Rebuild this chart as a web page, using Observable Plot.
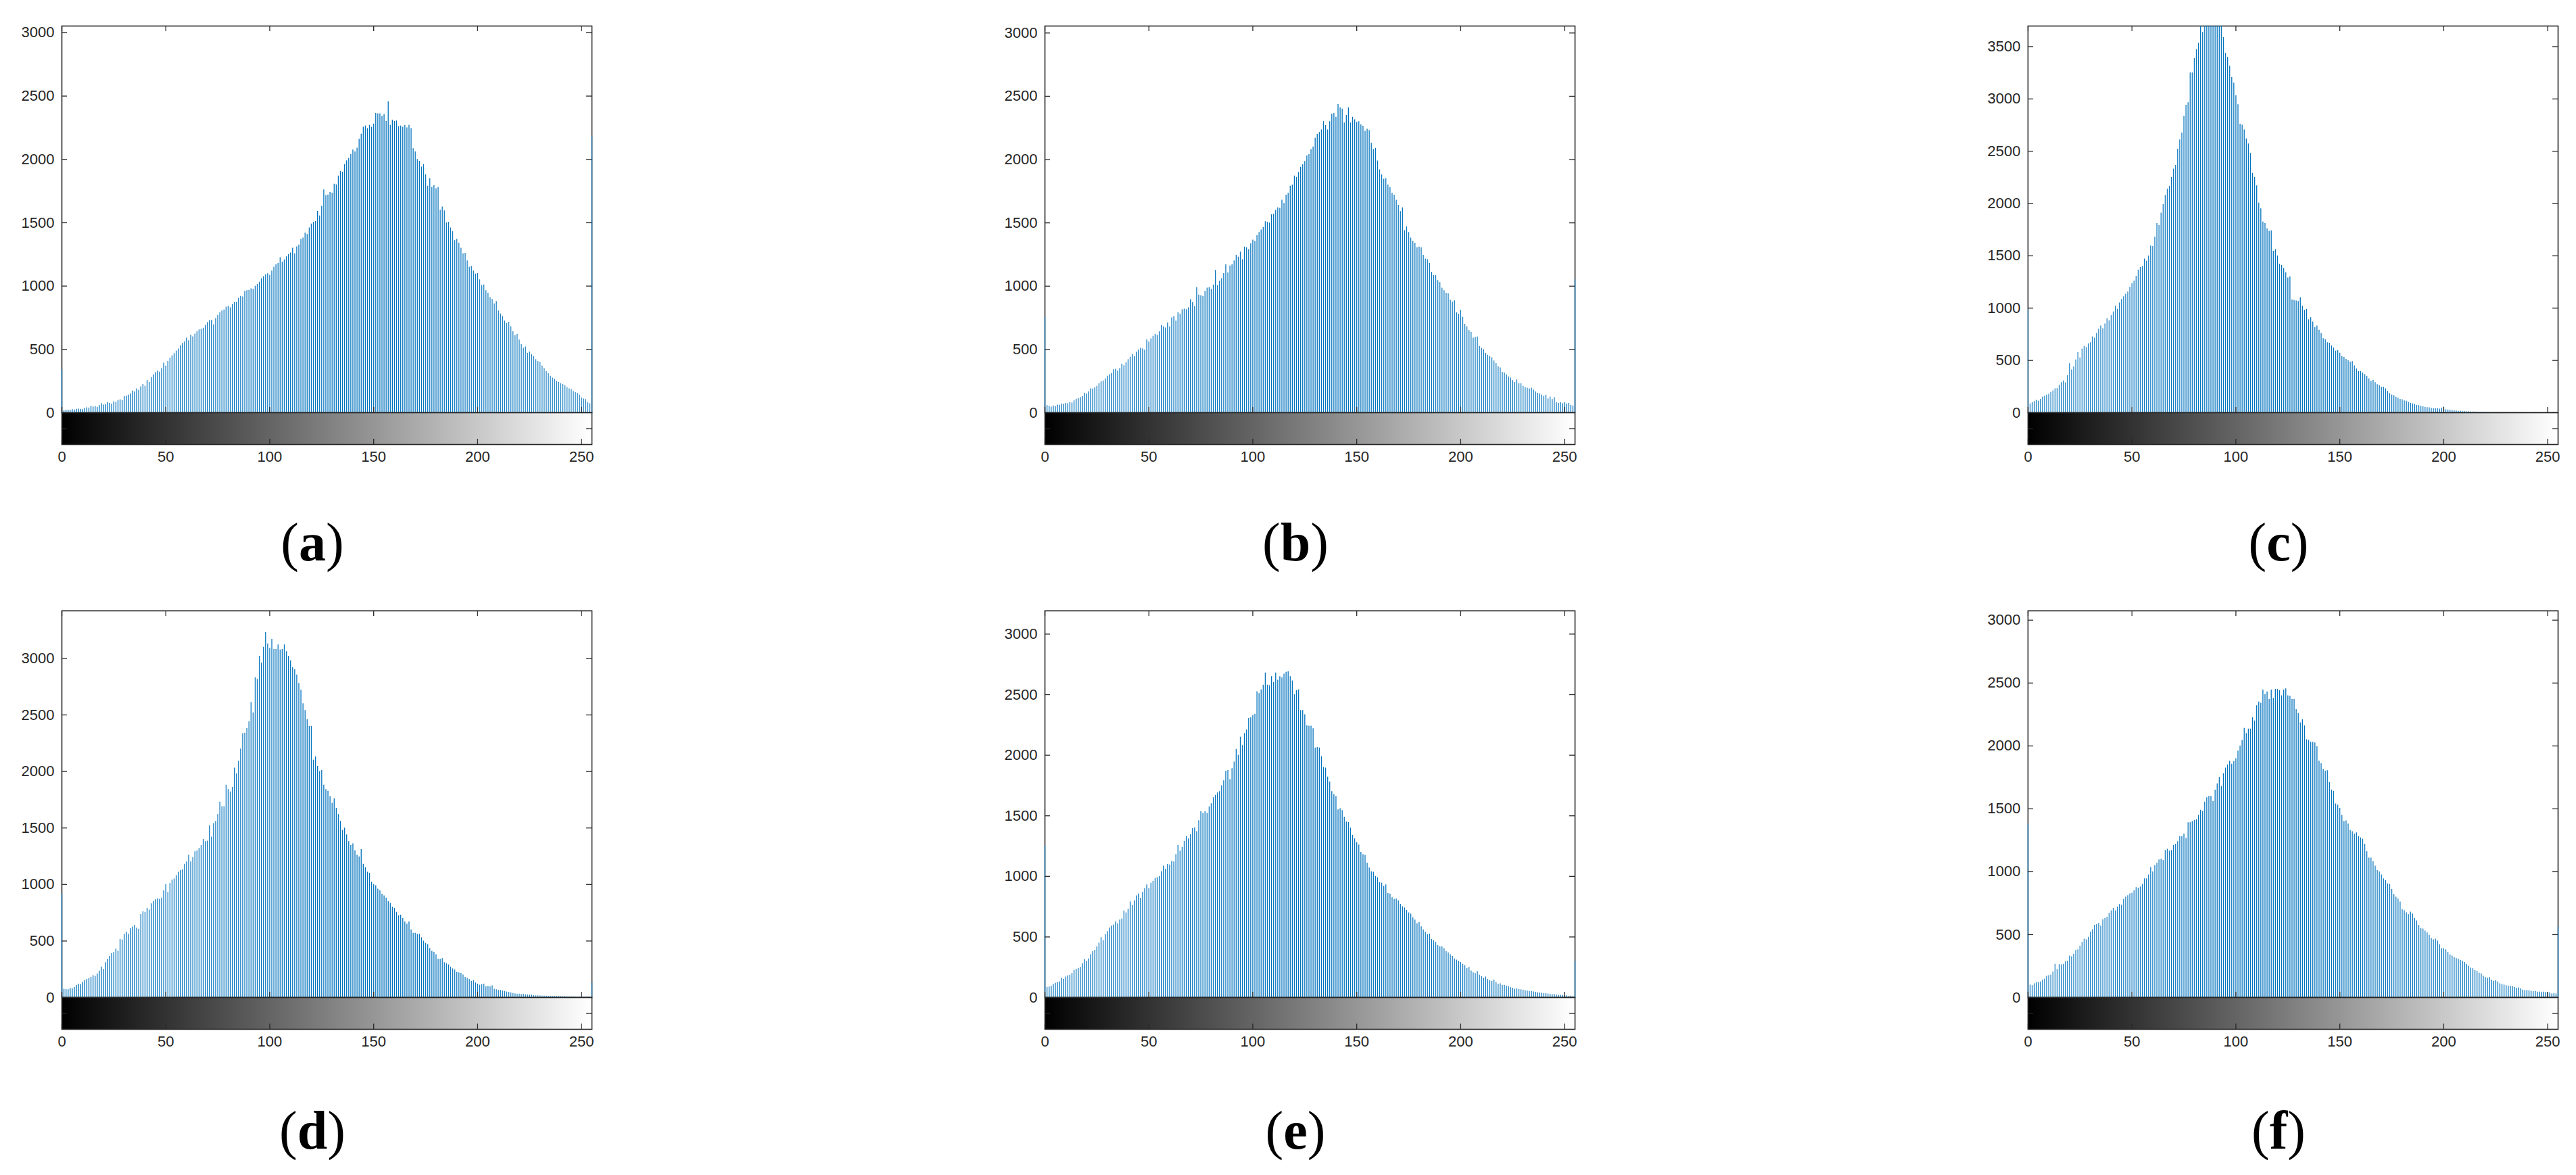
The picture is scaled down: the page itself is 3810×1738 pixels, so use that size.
<!DOCTYPE html>
<html><head><meta charset="utf-8">
<script src="https://cdn.jsdelivr.net/npm/d3@7"></script>
<script src="https://cdn.jsdelivr.net/npm/@observablehq/plot@0.6"></script>
<style>
body{margin:0;background:#fff;}
#fig{position:relative;width:3810px;height:1738px;background:#fff;overflow:hidden;}
.panel{position:absolute;}
.lbl{position:absolute;font-family:"Liberation Serif","Times New Roman",serif;font-size:80px;color:#000;transform:translate(-50%,-50%);white-space:nowrap;line-height:1;}
.lbl b{font-weight:bold;}
</style></head><body><div id="fig"></div>
<script>
// intensity levels (categories) and tick labels
const levels = d3.range(256);
const xTicks = [0, 50, 100, 150, 200, 250];
const yTicksAll = [0, 500, 1000, 1500, 2000, 2500, 3000, 3500];
const panelLabels = ["a", "b", "c", "d", "e", "f"];

const countsA = [
340,18,21,22,20,25,23,28,30,27,26,35,40,38,52,46,
50,44,58,72,62,66,80,75,70,88,82,98,104,96,128,132,
140,150,172,165,190,178,205,225,210,255,240,278,300,318,330,322,
350,392,370,405,432,450,468,488,505,530,548,560,590,570,612,600,
622,640,655,660,668,690,712,728,730,695,745,770,790,805,812,835,
840,830,855,870,872,905,920,915,960,965,968,980,975,1000,1015,1032,
1060,1075,1090,1098,1085,1120,1150,1170,1180,1225,1190,1208,1232,1250,1262,1300,
1255,1310,1325,1370,1380,1420,1408,1460,1490,1505,1510,1590,1555,1630,1760,1715,
1720,1740,1735,1805,1800,1870,1905,1900,1960,1990,2010,2040,2075,2060,2090,2160,
2200,2255,2265,2245,2270,2255,2280,2365,2360,2360,2340,2355,2300,2455,2270,2310,
2300,2305,2260,2265,2255,2270,2250,2270,2245,2085,2060,2000,1985,1940,1960,1880,
1790,1850,1780,1795,1770,1780,1600,1625,1595,1500,1505,1460,1430,1360,1370,1340,
1300,1255,1260,1200,1150,1155,1120,1095,1100,1050,1005,1010,965,945,910,895,
860,880,805,780,760,725,705,715,680,640,610,620,575,540,510,520,
470,480,460,445,420,405,400,370,350,325,310,290,275,265,250,240,
230,225,215,200,190,185,170,160,155,140,118,110,105,80,72,2180];

const countsB = [
755,58,52,45,55,50,62,60,70,68,75,72,80,78,95,108,
112,120,130,155,148,165,190,188,198,210,230,245,252,268,290,300,
310,340,345,330,350,385,372,395,420,440,460,445,480,495,510,505,
495,575,560,585,605,620,612,640,690,680,670,710,680,750,760,725,
790,780,815,820,815,830,895,870,840,990,930,925,920,960,985,990,
975,1010,1125,1005,1040,1060,1100,1170,1105,1160,1170,1200,1245,1230,1270,1210,
1310,1305,1290,1335,1365,1355,1400,1425,1445,1465,1510,1505,1500,1565,1570,1600,
1620,1615,1680,1655,1720,1735,1790,1800,1870,1860,1900,1940,1960,1985,2030,2040,
2080,2100,2170,2200,2215,2235,2300,2270,2235,2300,2360,2365,2335,2435,2410,2400,
2290,2350,2410,2290,2335,2315,2295,2300,2275,2265,2225,2240,2230,2130,2080,2090,
1990,1920,1880,1845,1850,1800,1780,1735,1720,1680,1640,1590,1620,1440,1470,1425,
1380,1355,1340,1305,1310,1305,1245,1215,1210,1180,1110,1085,1085,1045,1030,985,
965,945,940,890,875,885,790,780,810,755,700,680,650,635,590,595,
600,525,510,500,470,455,445,435,410,390,365,355,320,315,300,285,
275,255,240,260,230,230,210,200,195,190,195,180,165,155,150,140,
130,140,110,125,105,120,80,75,80,72,80,70,75,60,55,1050];

const countsC = [
990,85,98,108,120,112,130,150,158,170,178,195,210,230,232,265,
290,305,288,355,470,410,440,505,575,525,610,635,625,660,670,725,
715,760,800,830,805,850,900,880,930,965,1020,990,1050,1085,1110,1135,
1155,1200,1235,1260,1305,1365,1390,1400,1470,1450,1500,1595,1590,1680,1810,1790,
1910,1990,2080,2140,2165,2250,2330,2365,2520,2610,2675,2836,2941,2965,3249,3249,
3387,3473,3533,3760,3637,3820,3900,3870,3950,3910,3880,3840,3790,3740,3587,3437,
3398,3314,3206,3152,3032,2946,2760,2750,2705,2620,2570,2480,2290,2250,2170,2005,
1950,1825,1810,1760,1735,1740,1545,1560,1500,1420,1410,1380,1340,1290,1300,1080,
1075,1070,1065,1100,1020,980,990,890,910,870,815,830,790,760,710,700,
670,665,640,620,590,595,570,540,530,510,500,485,490,450,420,395,
395,380,365,350,325,300,310,290,270,260,245,245,230,205,185,170,
165,150,140,130,125,115,112,100,90,85,80,72,70,62,58,52,
50,48,42,40,40,38,36,45,55,30,28,25,22,20,18,15,
14,12,12,10,10,9,8,8,7,6,6,5,5,5,4,4,
4,3,3,3,3,3,2,2,2,2,2,2,1,1,1,1,
1,1,1,1,1,0,0,0,0,0,0,0,0,0,0,0];

const countsD = [
915,75,72,70,80,78,90,108,120,115,135,150,160,168,180,195,
188,210,235,270,250,310,340,365,390,400,430,410,515,510,560,580,
560,610,625,640,615,605,735,760,755,790,775,830,850,865,875,870,
880,945,1000,930,1010,1040,1050,1080,1110,1125,1130,1180,1200,1260,1200,1240,
1290,1300,1320,1345,1400,1380,1385,1520,1420,1540,1560,1620,1730,1690,1690,1880,
1840,1820,1860,2030,1980,2090,2200,2335,2340,2380,2440,2610,2520,2830,2815,3020,
2960,3100,3230,3130,3090,3170,3080,3080,3120,3075,3080,3120,3060,3020,2980,2920,
2900,2855,2780,2720,2600,2540,2460,2400,2400,2100,2130,2045,2000,2010,1880,1840,
1825,1780,1720,1760,1675,1620,1560,1480,1500,1440,1380,1345,1360,1300,1260,1245,
1310,1180,1150,1110,1100,1020,1000,990,960,945,915,900,880,850,835,800,
790,755,725,730,700,670,650,670,600,570,570,560,560,530,500,480,
470,435,410,400,380,340,340,345,310,300,290,270,255,245,225,220,
215,200,180,170,160,145,150,130,120,110,115,120,95,100,95,105,
75,70,65,65,58,55,50,48,42,38,35,30,32,28,30,26,
24,22,22,18,16,16,15,14,14,13,12,12,11,10,11,10,
10,9,10,8,8,7,7,6,6,6,5,5,5,4,4,130];

const countsE = [
1250,85,88,95,110,118,125,130,160,150,170,180,185,200,225,235,
240,250,280,315,300,320,355,380,390,420,450,495,470,520,545,575,
590,600,625,610,640,650,715,700,730,790,760,800,840,855,820,870,
900,930,900,945,960,985,990,1000,1040,1085,1060,1100,1095,1125,1120,1180,
1255,1210,1240,1290,1330,1310,1345,1395,1400,1370,1460,1535,1520,1535,1520,1575,
1600,1650,1670,1690,1700,1750,1790,1870,1875,1800,1890,1945,2050,2000,2150,2080,
2180,2210,2305,2310,2330,2340,2525,2510,2540,2580,2680,2580,2575,2650,2600,2680,
2620,2650,2640,2670,2685,2690,2650,2615,2500,2535,2540,2370,2370,2335,2245,2240,
2240,2220,2060,2065,2060,1990,1900,1895,1820,1780,1700,1675,1660,1550,1560,1545,
1490,1450,1445,1400,1340,1310,1280,1260,1200,1180,1175,1110,1070,1040,1035,1000,
990,950,945,920,930,860,855,825,810,815,800,770,750,740,720,700,
690,660,640,610,620,585,560,540,520,525,480,470,455,430,420,420,
405,380,370,355,340,320,310,300,290,275,265,240,250,220,205,200,
215,185,175,160,170,150,140,135,145,125,110,115,100,102,95,90,
82,78,70,72,68,65,62,58,55,50,52,48,44,40,38,36,
33,34,30,28,25,26,22,20,20,18,16,14,10,12,8,300];

const countsF = [
1380,100,95,110,120,118,125,140,148,170,175,180,205,265,225,262,
260,265,285,290,330,325,345,375,380,410,440,465,460,480,520,540,
575,580,590,570,620,630,640,670,690,710,690,720,740,735,780,800,
810,825,830,850,875,870,880,900,945,945,975,1035,1000,1050,1070,1095,
1100,1090,1170,1180,1165,1170,1210,1220,1240,1280,1280,1300,1265,1390,1390,1400,
1410,1415,1450,1490,1480,1555,1590,1600,1600,1560,1650,1700,1750,1680,1780,1825,
1850,1880,1855,1875,1900,1960,2000,2045,2140,2100,2135,2135,2225,2200,2320,2350,
2340,2445,2410,2430,2370,2445,2380,2450,2450,2440,2400,2445,2455,2400,2395,2370,
2370,2290,2260,2185,2210,2160,2050,2045,2030,2030,2025,1995,1880,1860,1815,1800,
1805,1710,1650,1640,1540,1530,1505,1450,1400,1405,1380,1330,1320,1300,1310,1280,
1270,1260,1220,1160,1110,1110,1080,1045,1010,1000,975,945,930,905,900,860,
820,800,785,760,700,690,675,660,680,665,630,610,575,550,545,530,
515,495,470,460,465,450,420,390,390,380,360,340,330,320,310,305,
295,290,280,265,250,235,230,215,210,195,190,170,160,155,160,140,
130,135,125,110,105,100,95,90,92,88,80,75,78,70,60,55,
58,55,50,48,50,45,45,42,44,40,40,38,30,32,30,565];

const allCounts = [countsA, countsB, countsC, countsD, countsE, countsF];
const yMax = [3053, 3055, 3697, 3421, 3192, 3074];

// layout
const colLeft = [91, 1545, 2999];
const rowTop = [38, 903];
const labelY = [802, 1672];
const W = 784, H = 572, G = 47;
const ML = 100, MR = 14, MT = 6;
const axisColor = "#262626";
const fontStack = "'Liberation Sans', Arial, Helvetica, sans-serif";
const tick = 8;
const fmt = d => String(d);

const fig = document.getElementById("fig");

allCounts.forEach((counts, p) => {
  const col = p % 3, row = Math.floor(p / 3);
  const rows = levels.map((v, i) => ({level: v, count: counts[i]}));
  const yTicks = yTicksAll.filter(t => t <= yMax[p]);
  const needClip = counts.some(c => c > yMax[p]);

  const hist = Plot.plot({
    width: ML + W + MR, height: MT + H + 2,
    marginLeft: ML, marginRight: MR, marginTop: MT, marginBottom: 2,
    x: {domain: [0, 255], axis: null},
    y: {domain: [0, yMax[p]], axis: null},
    style: {fontFamily: fontStack, fontSize: "22px", color: axisColor, background: "transparent", overflow: "visible"},
    marks: [
      Plot.frame({stroke: axisColor, strokeWidth: 1.6}),
      Plot.ruleX(rows, {x: "level", y1: 0, y2: "count", stroke: "#0072BD", strokeWidth: 1.3, clip: needClip}),
      Plot.axisY(yTicks, {anchor: "left", label: null, tickSize: 0, tickPadding: 11, tickFormat: fmt, fontSize: 22, fill: axisColor}),
      Plot.tickY(yTicks, {y: d => d, insetRight: W - tick, stroke: axisColor, strokeWidth: 1.3}),
      Plot.tickY(yTicks, {y: d => d, insetLeft: W - tick, stroke: axisColor, strokeWidth: 1.3}),
      Plot.tickX(xTicks, {x: d => d, insetBottom: H - tick, stroke: axisColor, strokeWidth: 1.3}),
      Plot.tickX(xTicks, {x: d => d, insetTop: H - tick, stroke: axisColor, strokeWidth: 1.3}),
      Plot.ruleY([0], {stroke: axisColor, strokeWidth: 1.6})
    ]
  });
  const d1 = document.createElement("div");
  d1.className = "panel";
  d1.style.left = (colLeft[col] - ML) + "px";
  d1.style.top = (rowTop[row] - MT) + "px";
  d1.appendChild(hist);
  fig.appendChild(d1);

  const grad = Plot.plot({
    width: ML + W + MR, height: G + 50,
    marginLeft: ML, marginRight: MR, marginTop: 0, marginBottom: 50,
    x: {domain: [0, 255]},
    y: {domain: [0, 1], axis: null},
    style: {fontFamily: fontStack, fontSize: "22px", color: axisColor, background: "transparent", overflow: "visible"},
    marks: [
      Plot.rect(levels, {x1: d => d - 0.5, x2: d => d + 0.5, y1: 0, y2: 1, fill: d => `rgb(${d},${d},${d})`, shapeRendering: "crispEdges", clip: true}),
      Plot.axisX(xTicks, {anchor: "bottom", label: null, tickSize: 0, tickPadding: 10, tickFormat: fmt, fontSize: 22, fill: axisColor}),
      Plot.tickX(xTicks, {x: d => d, insetTop: G - tick, stroke: axisColor, strokeWidth: 1.3}),
      Plot.tickY([0.5], {y: d => d, insetRight: W - tick, stroke: axisColor, strokeWidth: 1.3}),
      Plot.tickY([0.5], {y: d => d, insetLeft: W - tick, stroke: axisColor, strokeWidth: 1.3}),
      Plot.frame({stroke: axisColor, strokeWidth: 1.6})
    ]
  });
  const d2 = document.createElement("div");
  d2.className = "panel";
  d2.style.left = (colLeft[col] - ML) + "px";
  d2.style.top = (rowTop[row] + H) + "px";
  d2.appendChild(grad);
  fig.appendChild(d2);

  const lab = document.createElement("div");
  lab.className = "lbl";
  lab.style.left = (colLeft[col] + 371) + "px";
  lab.style.top = labelY[row] + "px";
  lab.innerHTML = "(<b>" + panelLabels[p] + "</b>)";
  fig.appendChild(lab);
});
</script></body></html>
